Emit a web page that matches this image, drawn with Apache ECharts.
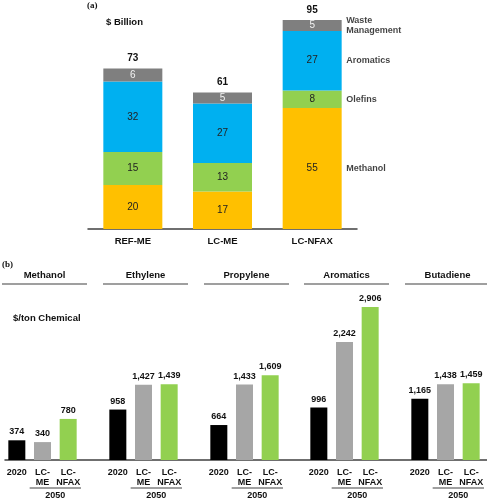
<!DOCTYPE html>
<html><head><meta charset="utf-8">
<script src="https://cdn.jsdelivr.net/npm/echarts@6/dist/echarts.min.js"></script>
<style>html,body{margin:0;padding:0;background:#fff}#c{width:487px;height:500px}</style>
</head><body><div id="c"></div>
<script>
// ---- Panel (a) data: $ Billion ----
const scenariosA = ['REF-ME', 'LC-ME', 'LC-NFAX'];
const methanolA = [20, 17, 55];
const olefinsA = [15, 13, 8];
const aromaticsA = [32, 27, 27];
const wasteA = [6, 5, 5];
const totalsA = [73, 61, 95]; // as printed in the original (rounded)
const segmentNamesA = ['Methanol', 'Olefins', 'Aromatics', 'Waste\nManagement'];

// ---- Panel (b) data: $/ton chemical ----
const chemicals = ['Methanol', 'Ethylene', 'Propylene', 'Aromatics', 'Butadiene'];
const casesB = ['2020', 'LC-\nME', 'LC-\nNFAX'];
const cost2020 = [374, 958, 664, 996, 1165];
const costLCME = [340, 1427, 1433, 2242, 1438];
const costLCNFAX = [780, 1439, 1609, 2906, 1459];

const FONT = "'Liberation Sans', Arial, sans-serif";
const SERIF = "'Liberation Serif', 'Times New Roman', serif";
const colorsA = ['#ffc000', '#92d050', '#00b0f0', '#7f7f7f'];
const colorsB = ['#000000', '#a6a6a6', '#92d050'];

const chart = echarts.init(document.getElementById('c'), null, {renderer: 'canvas'});

const seriesA = [methanolA, olefinsA, aromaticsA, wasteA];

const grids = [];
const xAxes = [];
const yAxes = [];
const series = [];

// grid 0: panel (a)
grids.push({left: 88, right: 130, top: 9, bottom: 271});
xAxes.push({
  type: 'category', gridIndex: 0, data: scenariosA,
  axisLine: {lineStyle: {color: '#404040', width: 1.5}},
  axisTick: {show: false},
  axisLabel: {color: '#111', fontWeight: 'bold', fontSize: 9.5, fontFamily: FONT, margin: 7}
});
yAxes.push({type: 'value', gridIndex: 0, min: 0, max: 100, show: false});

seriesA.forEach((arr, k) => {
  series.push({
    type: 'bar', name: segmentNamesA[k], xAxisIndex: 0, yAxisIndex: 0, stack: 'a',
    barWidth: 59, data: arr,
    itemStyle: {color: colorsA[k]},
    label: {show: true, position: 'inside', fontFamily: FONT, fontSize: 10,
      color: k === 3 ? '#f2f2f2' : '#222'}
  });
});
// totals on top
series.push({
  type: 'bar', xAxisIndex: 0, yAxisIndex: 0, stack: 'a', barWidth: 59,
  data: totalsA.map(() => 0),
  itemStyle: {color: 'transparent'},
  label: {show: true, position: 'top', distance: 5, fontFamily: FONT, fontSize: 10,
    fontWeight: 'bold', color: '#111', formatter: p => String(totalsA[p.dataIndex])}
});
// segment names to the right of the last bar
const lastIdx = scenariosA.length - 1;
let cum = 0;
const legendPts = seriesA.map((arr, k) => {
  const mid = cum + arr[lastIdx] / 2;
  cum += arr[lastIdx];
  return {value: [scenariosA[lastIdx], mid], name: segmentNamesA[k]};
});
series.push({
  type: 'scatter', xAxisIndex: 0, yAxisIndex: 0, symbolSize: 0, silent: true,
  data: legendPts,
  label: {show: true, position: 'right', distance: 34, align: 'left',
    fontFamily: FONT, fontSize: 9, fontWeight: 'bold', color: '#111', lineHeight: 10.5,
    formatter: p => p.name}
});

// grids 1..5: panel (b)
const lefts = [4, 105, 206, 306, 407];
chemicals.forEach((chem, i) => {
  const gi = i + 1;
  grids.push({left: lefts[i], width: 77, top: 302, bottom: 40});
  xAxes.push({
    type: 'category', gridIndex: gi, data: casesB,
    axisLine: {show: false}, axisTick: {show: false},
    axisLabel: {color: '#111', fontWeight: 'bold', fontSize: 9, fontFamily: FONT,
      margin: 8, lineHeight: 9.5, interval: 0}
  });
  yAxes.push({type: 'value', gridIndex: gi, min: 0, max: 3000, show: false});
  const vals = [cost2020[i], costLCME[i], costLCNFAX[i]];
  series.push({
    type: 'bar', xAxisIndex: gi, yAxisIndex: gi, barWidth: 17,
    data: vals.map((v, k) => ({value: v, itemStyle: {color: colorsB[k]}})),
    label: {show: true, position: 'top', distance: 4, fontFamily: FONT, fontSize: 9,
      fontWeight: 'bold', color: '#111',
      formatter: p => Number(p.value).toLocaleString('en-US')}
  });
});
// grid 6: continuous baseline for panel (b)
grids.push({left: 5, right: 0, top: 302, bottom: 40});
xAxes.push({type: 'category', gridIndex: 6, data: [''],
  axisLine: {lineStyle: {color: '#404040', width: 1.5}},
  axisTick: {show: false}, axisLabel: {show: false}});
yAxes.push({type: 'value', gridIndex: 6, min: 0, max: 3000, show: false});

chart.setOption({
  animation: false,
  backgroundColor: '#fff',
  grid: grids, xAxis: xAxes, yAxis: yAxes, series: series
});

// decorations: titles, header rules, 2050 brackets
const g = [];
g.push({type: 'text', left: 87, top: 1, style: {text: '(a)', font: 'bold 9px ' + SERIF, fill: '#111'}});
g.push({type: 'text', left: 106, top: 17, style: {text: '$ Billion', font: 'bold 9.5px ' + FONT, fill: '#111'}});
g.push({type: 'text', left: 2, top: 260, style: {text: '(b)', font: 'bold 9px ' + SERIF, fill: '#111'}});
g.push({type: 'text', left: 13, top: 313, style: {text: '$/ton Chemical', font: 'bold 9.5px ' + FONT, fill: '#111'}});
chemicals.forEach((chem, i) => {
  const gi = i + 1;
  const x1 = chart.convertToPixel({xAxisIndex: gi}, 1);
  const x2 = chart.convertToPixel({xAxisIndex: gi}, 2);
  const half = (x2 - x1) / 2;
  const c = x1 + 2;
  g.push({type: 'line', shape: {x1: c - 42.5, y1: 284, x2: c + 42.5, y2: 284},
    style: {stroke: '#7f7f7f', lineWidth: 1.5}});
  g.push({type: 'text', x: c, y: 275, style: {text: chem, font: 'bold 9.5px ' + FONT,
    fill: '#111', align: 'center', verticalAlign: 'middle'}});
  g.push({type: 'line', shape: {x1: x1 - half, y1: 488, x2: x2 + half, y2: 488},
    style: {stroke: '#404040', lineWidth: 1}});
  g.push({type: 'text', x: (x1 + x2) / 2, y: 496, style: {text: '2050', font: 'bold 9px ' + FONT,
    fill: '#111', align: 'center', verticalAlign: 'middle'}});
});
chart.setOption({graphic: g});
</script>
</body></html>
